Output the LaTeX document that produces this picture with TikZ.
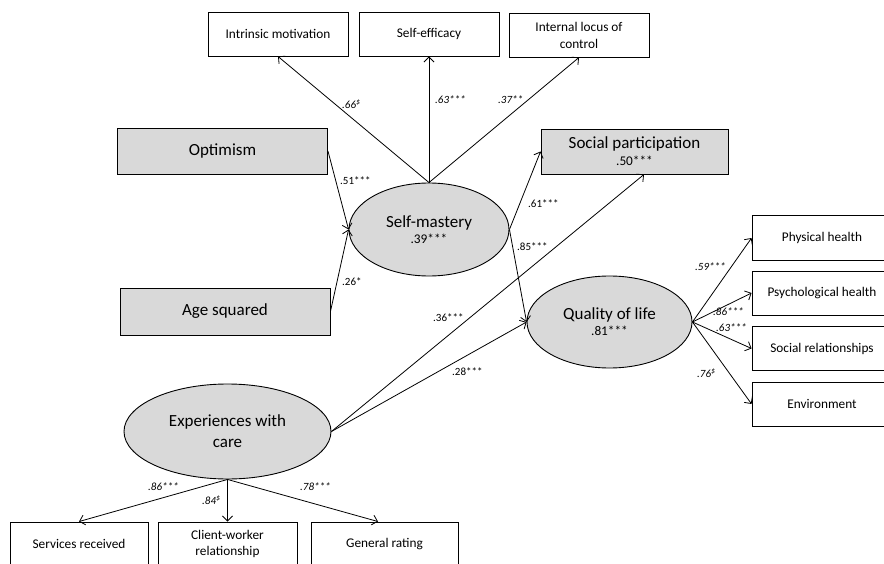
\documentclass[tikz,border=0pt]{standalone}
\usepackage{fontspec}
\setmainfont{Carlito}
\usetikzlibrary{arrows.meta,shapes.geometric}
\definecolor{boxgray}{HTML}{D9D9D9}
\begin{document}
\begin{tikzpicture}[x=1pt,y=-1pt,
  big/.style={font=\fontsize{17}{20}\selectfont},
  small/.style={font=\fontsize{13.3}{16}\selectfont},
  obsbox/.style={draw=black,line width=0.9pt,fill=white,inner sep=0pt,align=center,small,minimum height=44pt},
  graybox/.style={draw=black,line width=0.9pt,fill=boxgray,inner sep=0pt,align=center,big},
  latent/.style={draw=black,line width=0.9pt,fill=boxgray,ellipse,inner sep=0pt,align=center,big},
  conn/.style={line width=0.8pt,-{Straight Barb[length=5pt,width=10pt,line width=0.8pt]}},
  lab/.style={font=\fontsize{11}{13}\selectfont,anchor=west,inner sep=0pt},
  ilab/.style={lab,font=\fontsize{11}{13}\selectfont\itshape}
]
\useasboundingbox (0,0) rectangle (884,564);
\clip (0,0) rectangle (884,564);
\fill[white] (0,0) rectangle (884,564);

% indicator boxes top
\node[obsbox,minimum width=140pt] (im) at (278,34) {Intrinsic motivation};
\node[obsbox,minimum width=140pt] (se) at (429,34) {Self-efficacy};
\node[obsbox,minimum width=140pt,font=\fontsize{13.3}{17}\selectfont] (ilc) at (579,35) {Internal locus of\\control};

% gray observed
\node[graybox,minimum width=210pt,minimum height=46pt] (opt) at (222.5,151) {Optimism};
\node[graybox,minimum width=210pt,minimum height=47pt] (age) at (225,311.5) {Age squared};
\node[graybox,minimum width=187pt,minimum height=45pt] (sp) at (634.5,151.5) {Social participation\\[-3pt]{\fontsize{13.3}{16}\selectfont .50***}};

% latent
\node[latent,minimum width=160pt,minimum height=93pt] (sm) at (429,229.5) {Self-mastery\\[-4pt]{\fontsize{13.3}{16}\selectfont .39***}};
\node[latent,minimum width=165pt,minimum height=92pt] (qol) at (609.5,322) {Quality of life\\[-4pt]{\fontsize{13.3}{16}\selectfont .81***}};
\node[latent,minimum width=207pt,minimum height=95pt,font=\fontsize{17}{21}\selectfont] (ewc) at (227.5,431.5) {Experiences with\\care};

% right boxes
\node[obsbox,minimum width=140pt,minimum height=45pt] (ph) at (822,238) {Physical health};
\node[obsbox,minimum width=140pt,minimum height=44pt] (psy) at (822,293) {Psychological health};
\node[obsbox,minimum width=140pt,minimum height=44pt] (srl) at (822,348.5) {Social relationships};
\node[obsbox,minimum width=140pt,minimum height=44pt] (env) at (822,404) {Environment};

% bottom boxes
\node[obsbox,minimum width=138pt] (sr) at (79,544) {Services received};
\node[obsbox,minimum width=139pt] (cw) at (227.5,544) {Client-worker\\relationship};
\node[obsbox,minimum width=147pt] (gr) at (384.5,544) {General rating};

% connectors
\draw[conn] (sm.north) -- (im.south);
\draw[conn] (sm.north) -- (se.south);
\draw[conn] (sm.north) -- (ilc.south);
\draw[conn] (opt.east) -- (sm.west);
\draw[conn] (age.east) -- (sm.west);
\draw[conn] (sm.east) -- (sp.west);
\draw[conn] (sm.east) -- (qol.west);
\draw[conn] (ewc.east) -- ([xshift=9.5pt]sp.south);
\draw[conn] (ewc.east) -- (qol.west);
\draw[conn] (qol.east) -- (ph.west);
\draw[conn] (qol.east) -- (psy.west);
\draw[conn] (qol.east) -- (srl.west);
\draw[conn] (qol.east) -- (env.west);
\draw[conn] (ewc.south) -- (sr.north);
\draw[conn] (ewc.south) -- (cw.north);
\draw[conn] (ewc.south) -- ([xshift=-6.5pt]gr.north);

% labels
\node[ilab] (l1) at (342,104) {.66\textsuperscript{\$}};
\node[ilab] (l2) at (435,100) {.63***};
\node[ilab] (l3) at (498,100) {.37**};
\node[lab] (l4) at (340,181) {.51***};
\node[lab] (l5) at (342,282) {.26*};
\node[lab] (l6) at (528,204) {.61***};
\node[lab] (l7) at (517,247) {.85***};
\node[lab] (l8) at (433,318) {.36***};
\node[lab] (l9) at (452,372) {.28***};
\node[ilab] (l10) at (695,267) {.59***};
\node[ilab] (l11) at (713,312) {.86***};
\node[ilab] (l12) at (716,328) {.63***};
\node[ilab] (l13) at (697,373) {.76\textsuperscript{\$}};
\node[ilab] (l14) at (148,487) {.86***};
\node[ilab] (l15) at (202,500) {.84\textsuperscript{\$}};
\node[ilab] (l16) at (300,487) {.78***};
\end{tikzpicture}
\end{document}
